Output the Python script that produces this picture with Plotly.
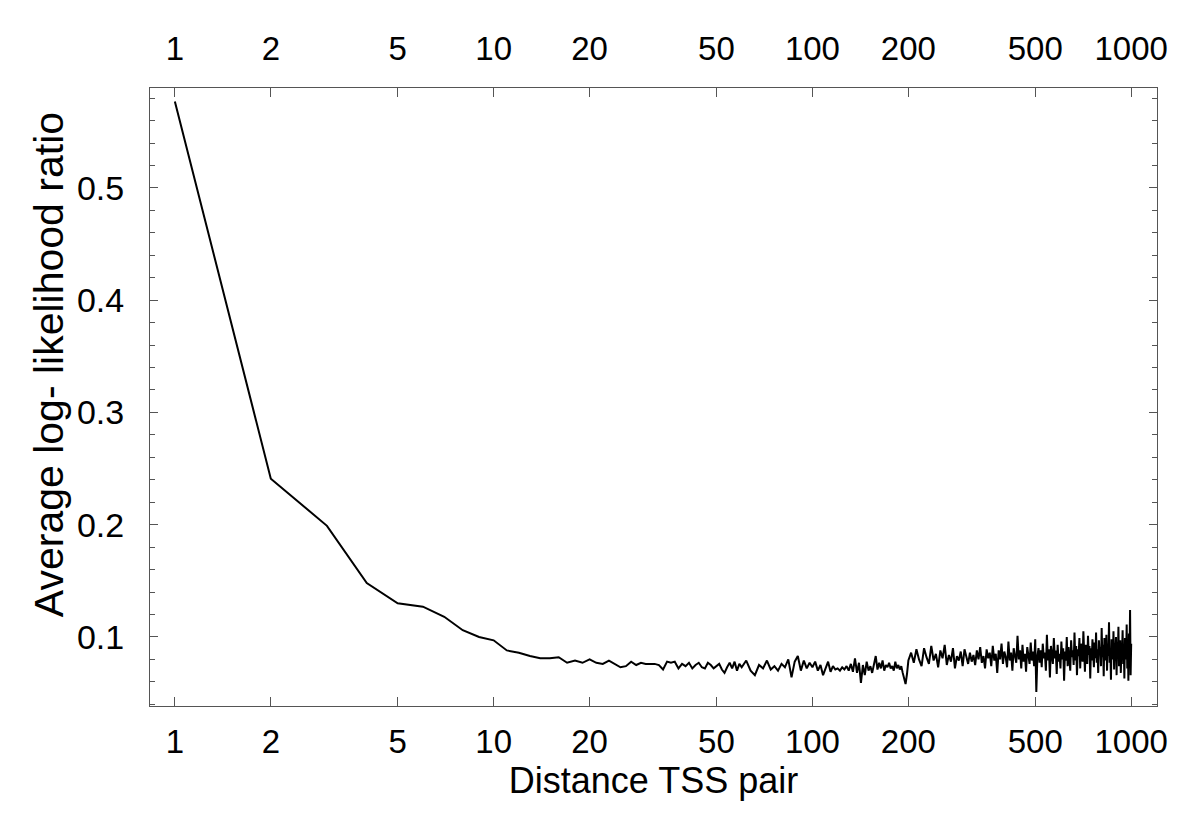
#!/usr/bin/env python3
"""
Average log-likelihood ratio vs distance of TSS pair (log x axis)
"""

import plotly.graph_objects as go

# Distance TSS pair: every integer up to 60, then every 2 up to 200, then every 4 up to 1000
distance = list(range(1, 61)) + list(range(62, 201, 2)) + list(range(204, 1001, 4))

llr_near = [  # distance 1 .. 60
    0.577, 0.241, 0.199, 0.148, 0.130, 0.127, 0.118, 0.106, 0.100, 0.097,
    0.088, 0.086, 0.083, 0.081, 0.081, 0.082, 0.077, 0.079, 0.077, 0.080,
    0.077, 0.076, 0.079, 0.076, 0.073, 0.074, 0.078, 0.075, 0.077, 0.076,
    0.076, 0.076, 0.075, 0.071, 0.078, 0.077, 0.078, 0.072, 0.076, 0.074,
    0.077, 0.072, 0.075, 0.077, 0.073, 0.072, 0.077, 0.075, 0.072, 0.074,
    0.076, 0.071, 0.068, 0.073, 0.077, 0.072, 0.078, 0.070, 0.076, 0.073,
]

llr_mid = [  # distance 62 .. 200, step 2
    0.079, 0.070, 0.066, 0.075, 0.072, 0.079, 0.071, 0.074, 0.070, 0.076,
    0.073, 0.080, 0.064, 0.078, 0.083, 0.070, 0.079, 0.072, 0.077, 0.073,
    0.078, 0.070, 0.075, 0.066, 0.073, 0.078, 0.069, 0.074, 0.071, 0.072,
    0.070, 0.073, 0.071, 0.074, 0.070, 0.076, 0.069, 0.081, 0.068, 0.077,
    0.059, 0.075, 0.066, 0.078, 0.070, 0.074, 0.068, 0.076, 0.083, 0.071,
    0.077, 0.072, 0.079, 0.070, 0.075, 0.073, 0.077, 0.072, 0.074, 0.070,
    0.078, 0.072, 0.075, 0.071, 0.074, 0.068, 0.064, 0.058, 0.067, 0.079,
]

llr_far = [  # distance 204 .. 1000, step 4
    0.086, 0.077, 0.089, 0.080, 0.074, 0.090, 0.082, 0.076, 0.092, 0.079,
    0.085, 0.073, 0.088, 0.081, 0.093, 0.075, 0.084, 0.078, 0.090, 0.072,
    0.083, 0.079, 0.087, 0.074, 0.089, 0.081, 0.076, 0.086, 0.078, 0.084,
    0.075, 0.088, 0.080, 0.091, 0.077, 0.083, 0.072, 0.089, 0.081, 0.086,
    0.074, 0.092, 0.079, 0.085, 0.068, 0.088, 0.080, 0.094, 0.076, 0.087,
    0.082, 0.073, 0.096, 0.079, 0.086, 0.070, 0.090, 0.083, 0.077, 0.101,
    0.080, 0.088, 0.072, 0.093, 0.078, 0.085, 0.069, 0.091, 0.082, 0.076,
    0.095, 0.079, 0.087, 0.074, 0.098, 0.051, 0.083, 0.090, 0.077, 0.088,
    0.073, 0.094, 0.081, 0.086, 0.070, 0.102, 0.079, 0.089, 0.064, 0.092,
    0.084, 0.076, 0.099, 0.081, 0.088, 0.067, 0.093, 0.078, 0.085, 0.072,
    0.096, 0.080, 0.090, 0.061, 0.087, 0.079, 0.100, 0.074, 0.091, 0.083,
    0.070, 0.097, 0.082, 0.088, 0.075, 0.104, 0.079, 0.092, 0.066, 0.089,
    0.083, 0.099, 0.072, 0.094, 0.086, 0.078, 0.105, 0.081, 0.069, 0.093,
    0.087, 0.076, 0.101, 0.084, 0.092, 0.063, 0.090, 0.079, 0.098, 0.085,
    0.073, 0.095, 0.081, 0.104, 0.077, 0.089, 0.068, 0.097, 0.084, 0.091,
    0.074, 0.108, 0.082, 0.093, 0.065, 0.099, 0.086, 0.079, 0.102, 0.070,
    0.094, 0.083, 0.113, 0.077, 0.090, 0.062, 0.098, 0.085, 0.080, 0.105,
    0.071, 0.092, 0.087, 0.100, 0.066, 0.095, 0.082, 0.109, 0.074, 0.089,
    0.097, 0.068, 0.093, 0.084, 0.106, 0.076, 0.091, 0.063, 0.099, 0.087,
    0.080, 0.111, 0.072, 0.095, 0.061, 0.103, 0.083, 0.124, 0.066, 0.094,
]

llr = llr_near + llr_mid + llr_far

x_ticks = [1, 2, 5, 10, 20, 50, 100, 200, 500, 1000]
y_ticks = [0.1, 0.2, 0.3, 0.4, 0.5]

FONT = "Liberation Sans, Arial, Helvetica, sans-serif"
AXIS_COLOR = "#555555"

fig = go.Figure()

fig.add_trace(go.Scatter(
    x=distance, y=llr, mode="lines",
    line=dict(color="black", width=2),
    showlegend=False,
))

# invisible copy so the top axis gets drawn
fig.add_trace(go.Scatter(
    x=distance, y=llr, mode="lines", xaxis="x2",
    line=dict(color="rgba(0,0,0,0)", width=0),
    showlegend=False, hoverinfo="skip",
))

x_range = [-0.078, 3.081]

# page body has an 8px margin, so the figure is a little smaller than the window
fig.update_layout(
    width=1184, height=808,
    margin=dict(l=142, r=35, t=80, b=110),
    paper_bgcolor="white", plot_bgcolor="white",
    font=dict(family=FONT, color="black", size=34),
    xaxis=dict(
        type="log", range=x_range,
        tickvals=x_ticks, ticktext=[str(v) for v in x_ticks],
        ticks="inside", ticklen=9, tickwidth=1, tickcolor=AXIS_COLOR,
        showline=True, linecolor=AXIS_COLOR, linewidth=1, mirror="ticks",
        showgrid=False, zeroline=False,
        tickfont=dict(size=33), ticklabelstandoff=6,
        title=dict(text="Distance TSS pair", font=dict(size=36), standoff=5),
    ),
    xaxis2=dict(
        type="log", range=x_range, overlaying="x", side="top",
        tickvals=x_ticks, ticktext=[str(v) for v in x_ticks],
        ticks="", showline=False, showgrid=False, zeroline=False,
        tickfont=dict(size=33), ticklabelstandoff=20,
    ),
    yaxis=dict(
        range=[0.0385, 0.589],
        tickvals=y_ticks, ticktext=[f"{v:.1f}" for v in y_ticks],
        ticks="inside", ticklen=8, tickwidth=1, tickcolor=AXIS_COLOR,
        minor=dict(dtick=0.02, tick0=0, ticks="inside", ticklen=5, tickcolor=AXIS_COLOR, showgrid=False),
        showline=True, linecolor=AXIS_COLOR, linewidth=1, mirror="ticks",
        showgrid=False, zeroline=False,
        tickfont=dict(size=34), ticklabelstandoff=18,
    ),
    annotations=[dict(
        text="Average log- likelihood ratio", textangle=-90,
        xref="paper", yref="paper", x=-0.1, y=0.552,
        xanchor="center", yanchor="middle", showarrow=False,
        font=dict(size=41),
    )],
)

fig.write_html("out.html")
